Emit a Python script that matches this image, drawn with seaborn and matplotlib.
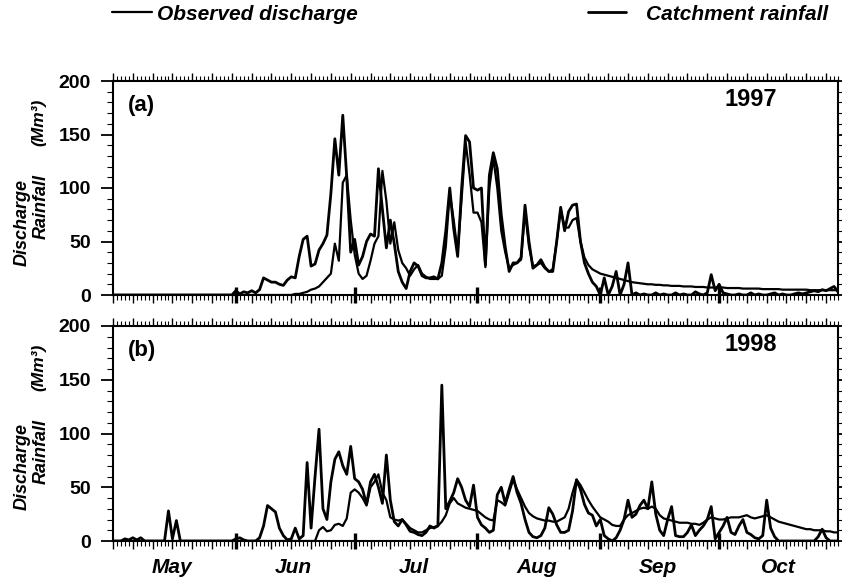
import numpy as np
import matplotlib
matplotlib.use("Agg")
import matplotlib.pyplot as plt
import seaborn as sns
from matplotlib.ticker import MultipleLocator, NullFormatter

# Daily series, 1 May (day 0) to 31 October (day 183), in Mm3
rain_1997 = (
    [0] * 31 +                                                        # May
    [4, 1, 3, 2, 4, 2, 5, 16, 14, 12, 12, 10, 9, 14, 17, 16, 36, 52, 55, 27,
     29, 42, 48, 56, 95, 146, 112, 168, 110, 40] +                    # Jun
    [52, 28, 36, 50, 57, 55, 118, 80, 44, 70, 48, 22, 12, 6, 22, 30, 27, 18,
     16, 16, 17, 15, 30, 60, 100, 62, 36, 100, 149, 143, 100] +       # Jul
    [98, 100, 28, 112, 133, 118, 75, 45, 22, 30, 30, 35, 84, 50, 25, 28, 33,
     26, 22, 22, 50, 82, 60, 78, 84, 85, 50, 30, 20, 12, 8] +         # Aug
    [0, 16, 0, 8, 22, 0, 10, 30, 0, 2, 0, 1, 0, 0, 2, 0, 1, 0, 0, 2,
     0, 1, 0, 0, 3, 1, 0, 2, 19, 4] +                                 # Sep
    [10, 2, 1, 0, 0, 1, 0, 0, 2, 0, 1, 0, 0, 1, 2, 0, 1, 0, 0, 1,
     2, 1, 2, 3, 4, 3, 5, 4, 6, 8, 3]                                 # Oct
)
discharge_1997 = (
    [0] * 31 +
    [0] * 10 + [0, 0, 0, 0, 0, 1, 1, 2] +
    [3, 5, 6, 8, 12, 16, 20, 48, 32, 105, 112, 70] +
    [38, 20, 15, 18, 32, 48, 55, 116, 88, 48, 68, 42, 30, 25, 18, 24, 28, 20,
     17, 15, 15, 15, 18, 45, 95, 70, 40, 90, 143, 113, 77] +
    [77, 68, 26, 100, 128, 100, 60, 40, 25, 28, 30, 33, 78, 45, 27, 28, 30,
     25, 22, 24, 50, 80, 63, 63, 70, 72, 50, 35, 28, 24, 22] +
    [20, 19, 18, 17, 16, 15, 14, 13, 12, 11.5, 11, 10.5, 10, 10, 9.5, 9.5, 9,
     9, 8.5, 8.5, 8.5, 8, 8, 8, 7.5, 7.5, 7.5, 7, 7, 7] +
    [7, 7, 6.5, 6.5, 6.5, 6.5, 6, 6, 6, 6, 6, 5.5, 5.5, 5.5, 5.5, 5.5, 5, 5,
     5, 5, 5, 5, 5, 4.5, 4.5, 4.5, 4.5, 4.5, 4.5, 4.5, 4.5]
)
rain_1998 = (
    [0, 0, 0, 2, 1, 3, 1, 3, 0, 0, 0, 0, 0, 0, 28, 2, 19, 0, 0, 0] + [0] * 11 +
    [2, 3, 1, 0, 0, 0, 3, 14, 33, 30, 27, 12, 5, 1, 2, 12, 2, 5, 73, 12,
     60, 104, 30, 20, 55, 76, 83, 70, 62, 88] +
    [58, 55, 48, 34, 55, 62, 50, 35, 80, 38, 18, 14, 20, 15, 9, 8, 6, 5, 8,
     14, 12, 14, 145, 30, 37, 45, 58, 50, 38, 32, 52] +
    [22, 15, 12, 8, 10, 43, 50, 35, 48, 60, 45, 35, 20, 8, 4, 3, 5, 12, 31,
     25, 15, 8, 8, 10, 28, 57, 48, 34, 26, 24, 14] +
    [20, 5, 2, 0, 3, 10, 20, 38, 22, 25, 33, 38, 30, 55, 25, 10, 5, 20, 32, 5,
     4, 4, 8, 15, 5, 10, 14, 20, 32, 2] +
    [8, 14, 22, 8, 6, 14, 20, 8, 6, 3, 2, 5, 38, 12, 4, 0, 0, 0, 0, 0,
     0, 0, 0, 0, 0, 4, 11, 3, 0, 0, 0]
)
discharge_1998 = (
    [0] * 31 +
    [0] * 21 + [10, 13, 9, 10, 15, 16, 14, 21, 45] +
    [48, 45, 40, 33, 50, 55, 62, 45, 38, 22, 20, 19, 20, 16, 12, 10, 8, 8, 10,
     12, 13, 14, 18, 24, 35, 40, 35, 33, 31, 30, 29] +
    [28, 25, 22, 20, 19, 38, 36, 33, 45, 57, 48, 40, 32, 26, 23, 21, 20, 19,
     19, 18, 18, 20, 22, 30, 45, 57, 52, 45, 38, 32, 27] +
    [22, 20, 18, 15, 14, 14, 20, 24, 26, 28, 30, 31, 30, 32, 30, 24, 21, 20,
     19, 18, 17, 17, 17, 16, 16, 15, 17, 20, 22, 21] +
    [20, 20, 21, 22, 22, 22, 23, 24, 22, 21, 22, 23, 24, 22, 20, 18, 17, 16,
     15, 14, 13, 12, 11, 11, 10, 10, 10, 9, 9, 8, 8]
)

months = ["May", "Jun", "Jul", "Aug", "Sep", "Oct"]
month_starts = [31, 61, 92, 123, 153]
month_mids = [15, 45.5, 76, 107, 137.5, 168]
y_ticks = [0, 50, 100, 150, 200]
panels = [("(a)", "1997", rain_1997, discharge_1997),
          ("(b)", "1998", rain_1998, discharge_1998)]

sns.set_theme(style="ticks")
plt.rcParams["font.family"] = ["Liberation Sans", "DejaVu Sans"]
plt.rcParams["axes.linewidth"] = 1.5
for key in ("axes.edgecolor", "text.color", "xtick.color", "ytick.color",
            "axes.labelcolor"):
    plt.rcParams[key] = "black"

W, H = 842, 579
fig = plt.figure(figsize=(W / 100, H / 100), dpi=100)
boxes = [(81, 295), (326, 541)]
left_px, right_px = 113, 838

axes = []
for (top, bottom), (tag, year, rain, dis) in zip(boxes, panels):
    ax = fig.add_axes([left_px / W, 1 - bottom / H,
                       (right_px - left_px) / W, (bottom - top) / H])
    days = np.arange(len(rain))
    sns.lineplot(x=days, y=rain, ax=ax, color="black", linewidth=2.0)
    sns.lineplot(x=days, y=dis, ax=ax, color="black", linewidth=1.6)
    ax.set_xlim(0, 183)
    ax.set_ylim(0, 200)
    ax.set_xlabel("")
    ax.set_ylabel("")

    # daily and five-day ticks on both horizontal spines
    ax.xaxis.set_major_locator(MultipleLocator(5))
    ax.xaxis.set_minor_locator(MultipleLocator(1))
    ax.xaxis.set_major_formatter(NullFormatter())
    ax.tick_params(axis="x", which="major", top=True, bottom=True,
                   direction="out", length=6, width=1)
    ax.tick_params(axis="x", which="minor", top=True, bottom=True,
                   direction="out", length=3.5, width=0.8)

    ax.set_yticks(y_ticks, labels=[str(v) for v in y_ticks],
                  fontsize=14, fontweight="bold")
    ax.yaxis.set_minor_locator(MultipleLocator(10))
    ax.tick_params(axis="y", which="major", left=True, right=True,
                   direction="out", length=9, width=1.3, pad=7)
    ax.tick_params(axis="y", which="minor", left=True, right=True,
                   direction="out", length=4, width=0.8)

    # heavier marks at the start of each month
    sec = ax.secondary_xaxis("bottom")
    sec.set_xticks(month_starts)
    sec.tick_params(length=12, width=2.4, direction="inout",
                    labelbottom=False)
    sec.spines["bottom"].set_visible(False)

    ax.text(0.021, 0.885, tag, transform=ax.transAxes, fontsize=16,
            fontweight="bold", ha="left", va="center")
    ax.text(0.88, 0.915, year, transform=ax.transAxes, fontsize=17,
            fontweight="bold", ha="center", va="center")

    # stacked axis title
    off = top - 81
    lab = dict(rotation=90, ha="center", va="center", fontweight="bold",
               fontstyle="italic")
    fig.text(22 / W, 1 - (222 + off) / H, "Discharge", fontsize=13, **lab)
    fig.text(41 / W, 1 - (207 + off) / H, "Rainfall", fontsize=13, **lab)
    fig.text(39 / W, 1 - (122 + off) / H, "(Mm³)", fontsize=12.5, **lab)
    axes.append(ax)

ax_b = axes[1]
mlab = ax_b.secondary_xaxis("bottom")
mlab.set_xticks(month_mids, labels=months, fontsize=15, fontweight="bold",
                fontstyle="italic")
mlab.tick_params(length=0, pad=12)
mlab.spines["bottom"].set_visible(False)

ax_a = axes[0]
prop = dict(weight="bold", style="italic", size=15)
fig.legend(handles=[ax_a.lines[1]], labels=["Observed discharge"],
           loc="center left", bbox_to_anchor=(112 / W, 1 - 14 / H),
           frameon=False, handlelength=1.9, handletextpad=0.25,
           borderpad=0, borderaxespad=0, prop=prop)
fig.legend(handles=[ax_a.lines[0]], labels=["Catchment rainfall"],
           loc="center left", bbox_to_anchor=(588 / W, 1 - 14 / H),
           frameon=False, handlelength=1.8, handletextpad=1.0,
           borderpad=0, borderaxespad=0, prop=prop)

fig.savefig("out.png", dpi=100)
